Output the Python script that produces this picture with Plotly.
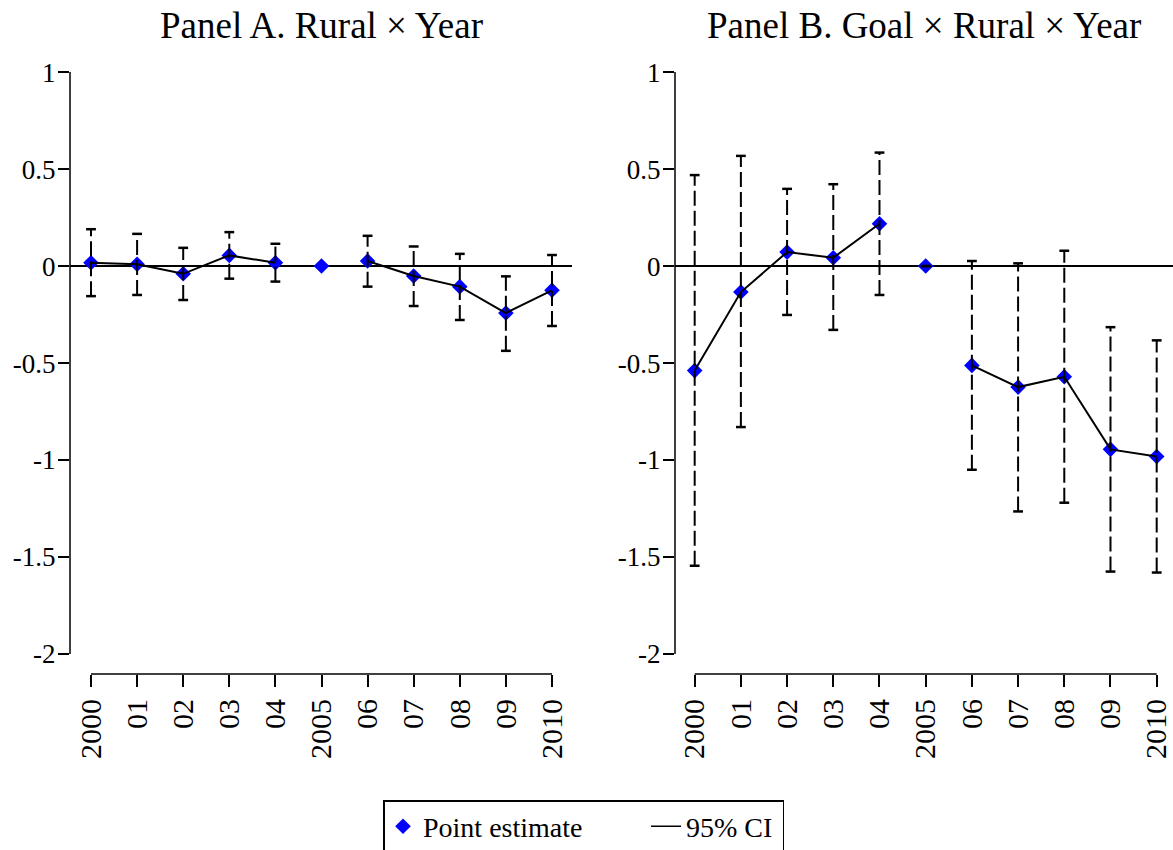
import plotly.graph_objects as go

# ---------------- data ----------------
years = [2000, 2001, 2002, 2003, 2004, 2005, 2006, 2007, 2008, 2009, 2010]
year_labels = ["2000", "01", "02", "03", "04", "2005", "06", "07", "08", "09", "2010"]
base_year = 2005

a_est = [0.017, 0.009, -0.040, 0.055, 0.017, 0.0, 0.026, -0.051, -0.106, -0.242, -0.125]
a_hi = [0.190, 0.166, 0.094, 0.175, 0.115, None, 0.156, 0.101, 0.063, -0.053, 0.057]
a_lo = [-0.155, -0.149, -0.175, -0.065, -0.080, None, -0.106, -0.206, -0.278, -0.437, -0.309]

b_est = [-0.539, -0.134, 0.072, 0.043, 0.218, 0.0, -0.512, -0.624, -0.571, -0.945, -0.982]
b_hi = [0.469, 0.568, 0.398, 0.422, 0.585, 0.0, 0.026, 0.014, 0.079, -0.315, -0.383]
b_lo = [-1.545, -0.830, -0.252, -0.329, -0.149, 0.0, -1.050, -1.265, -1.220, -1.575, -1.580]

y_tickvals = [1, 0.5, 0, -0.5, -1, -1.5, -2]
y_ticktext = ["1", "0.5", "0", "-0.5", "-1", "-1.5", "-2"]

titles = ["Panel A. Rural × Year", "Panel B. Goal × Rural × Year"]

# ---------------- figure ----------------
FONT = "Liberation Serif"
W, H = 1173, 850
fig = go.Figure()

panels = [
    dict(est=a_est, hi=a_hi, lo=a_lo, xa="x", ya="y", xr=[1999.5445, 2010.434]),
    dict(est=b_est, hi=b_hi, lo=b_lo, xa="x2", ya="y2", xr=[1999.574, 2010.353]),
]

for i, p in enumerate(panels):
    first = i == 0
    # point estimates
    fig.add_trace(go.Scatter(
        x=years, y=p["est"], mode="markers", xaxis=p["xa"], yaxis=p["ya"],
        marker=dict(symbol="diamond", size=12, color="#0000ff", line=dict(width=0)),
        name="Point estimate", showlegend=first, legendgroup="pe",
        legendwidth=218 if first else None,
    ))
    # CI dashed segments
    cx, cy = [], []
    capx, capy = [], []
    for yr, lo, hi in zip(years, p["lo"], p["hi"]):
        if lo is None or hi is None:
            continue
        cx += [yr, yr, None]
        cy += [lo, hi, None]
        capx += [yr, yr]
        capy += [lo, hi]
    fig.add_trace(go.Scatter(
        x=cx, y=cy, mode="lines", xaxis=p["xa"], yaxis=p["ya"],
        line=dict(color="black", width=2, dash="15px,5px"),
        showlegend=False, hoverinfo="skip",
    ))
    fig.add_trace(go.Scatter(
        x=capx, y=capy, mode="markers", xaxis=p["xa"], yaxis=p["ya"],
        marker=dict(symbol="line-ew", size=7, line=dict(color="black", width=2.5)),
        showlegend=False, hoverinfo="skip",
    ))
    # connecting line (not through the base year)
    line_y = [v if yr != base_year else None for yr, v in zip(years, p["est"])]
    fig.add_trace(go.Scatter(
        x=years, y=line_y, mode="lines", xaxis=p["xa"], yaxis=p["ya"],
        line=dict(color="black", width=2), connectgaps=False,
        showlegend=False, hoverinfo="skip",
    ))

# legend entry for CI (solid line)
fig.add_trace(go.Scatter(
    x=[None], y=[None], mode="lines", line=dict(color="black", width=1.5),
    name="95% CI", showlegend=True, legendwidth=91,
))

y_dom = [1 - 674 / H, 1 - 72 / H]
y_range = [-2.1031, 1.0005]
x_doms = [[70 / W, 572 / W], [675 / W, 1.0]]

axis_common_x = dict(
    tickmode="array", tickvals=years, ticktext=year_labels, tickangle=-90,
    ticks="outside", ticklen=12, tickwidth=1.5, tickcolor="black",
    showline=False, showgrid=False, zeroline=False, automargin=False,
    tickfont=dict(family=FONT, size=30, color="black"),
)
axis_common_y = dict(
    tickmode="array", tickvals=y_tickvals, ticktext=y_ticktext,
    ticks="outside", ticklen=11, tickwidth=1.5, tickcolor="black",
    showline=False, showgrid=False, zeroline=True, zerolinecolor="black",
    zerolinewidth=1.5, range=y_range, domain=y_dom, automargin=False,
    ticklabelstandoff=-3,
    tickfont=dict(family=FONT, size=27, color="black"),
)

fig.update_layout(
    width=W, height=H,
    margin=dict(l=0, r=0, t=0, b=0, autoexpand=False),
    paper_bgcolor="white", plot_bgcolor="white",
    font=dict(family=FONT, color="black"),
    xaxis=dict(domain=x_doms[0], range=panels[0]["xr"], anchor="y", **axis_common_x),
    yaxis=dict(anchor="x", **axis_common_y),
    xaxis2=dict(domain=x_doms[1], range=panels[1]["xr"], anchor="y2", **axis_common_x),
    yaxis2=dict(anchor="x2", **axis_common_y),
    showlegend=True,
    legend=dict(
        orientation="h", x=383 / W, xanchor="left", y=1 - 800 / H, yanchor="top",
        bordercolor="black", borderwidth=1.5, bgcolor="white",
        font=dict(family=FONT, size=28, color="black"),
    ),
)

# axis lines spanning only the tick range (Stata style)
for i, (xa, ya) in enumerate([("x", "y"), ("x2", "y2")]):
    fig.add_shape(type="line", xref=f"{xa} domain", x0=0, x1=0, yref=ya,
                  y0=min(y_tickvals), y1=max(y_tickvals),
                  line=dict(color="black", width=1.5))
    fig.add_shape(type="line", xref=xa, x0=min(years), x1=max(years),
                  yref=f"{ya} domain", y0=0, y1=0,
                  line=dict(color="black", width=1.5))
    fig.add_annotation(text=titles[i], xref=f"{xa} domain", x=0.5, yref="paper",
                       y=1 - 25 / H, showarrow=False, xanchor="center", yanchor="middle",
                       font=dict(family=FONT, size=37, color="black"))

fig.write_html(
    "out.html",
    config={"displayModeBar": False},
    post_script="document.body.style.margin='0';document.body.style.padding='0';"
                "document.body.style.overflow='hidden';",
)
